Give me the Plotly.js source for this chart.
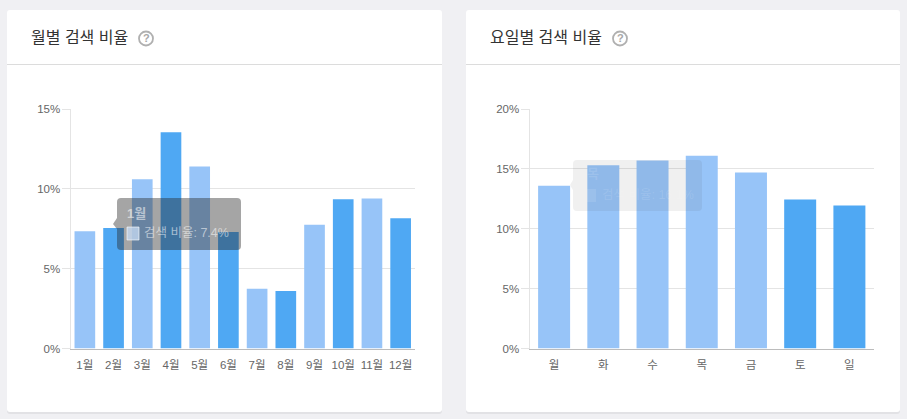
<!DOCTYPE html>
<html><head><meta charset="utf-8">
<script src="https://cdn.plot.ly/plotly-3.0.1.min.js"></script>
<style>html,body{margin:0;padding:0;background:#f0f0f3;overflow:hidden}#c{width:907px;height:419px}</style>
</head><body><div id="c"></div>
<script>
const months=['1월','2월','3월','4월','5월','6월','7월','8월','9월','10월','11월','12월'];
const monthValues=[7.35,7.55,10.6,13.55,11.4,7.3,3.75,3.6,7.75,9.35,9.4,8.15];
const days=['월','화','수','목','금','토','일'];
const dayValues=[13.6,15.3,15.7,16.1,14.7,12.45,11.95];
const LIGHT='#97c4f8',DARK='#4fa8f3';
const monthColors=months.map((_,i)=>i%2?DARK:LIGHT);
const dayColors=[LIGHT,LIGHT,LIGHT,LIGHT,LIGHT,DARK,DARK];
const W=907,H=419;
const FONT='"Liberation Sans","Noto Sans CJK KR",Arial,sans-serif';
const X=x=>x/W, Y=y=>1-y/H;
function rr(x0,y0,x1,y1,r){
  return `M${X(x0+r)},${Y(y0)}L${X(x1-r)},${Y(y0)}Q${X(x1)},${Y(y0)} ${X(x1)},${Y(y0+r)}L${X(x1)},${Y(y1-r)}Q${X(x1)},${Y(y1)} ${X(x1-r)},${Y(y1)}L${X(x0+r)},${Y(y1)}Q${X(x0)},${Y(y1)} ${X(x0)},${Y(y1-r)}L${X(x0)},${Y(y0+r)}Q${X(x0)},${Y(y0)} ${X(x0+r)},${Y(y0)}Z`;
}
const sh=(path,fill,layer)=>({type:'path',xref:'paper',yref:'paper',path,fillcolor:fill,line:{width:0},layer:layer||'below'});
const hline=(x0,x1,y)=>({type:'line',xref:'paper',yref:'paper',x0:X(x0),x1:X(x1),y0:Y(y),y1:Y(y),line:{color:'#dcdcdc',width:1},layer:'below'});
const circ=(cx,cy,r)=>({type:'circle',xref:'paper',yref:'paper',x0:X(cx-r),x1:X(cx+r),y0:Y(cy-r),y1:Y(cy+r),line:{color:'#b0b0b0',width:1.8},fillcolor:'rgba(0,0,0,0)',layer:'below'});
const note=(text,x,y,size,color,anchor)=>({text,xref:'paper',yref:'paper',x:X(x),y:Y(y),xanchor:anchor||'left',yanchor:'middle',showarrow:false,font:{size,color,family:FONT}});
const tipDark='rgba(40,40,40,0.42)', tipFaint='rgba(60,60,60,0.08)';
const shapes=[
  sh(rr(7,11,442,414,3),'#e2e2e5'),
  sh(rr(466,11,900,414,3),'#e2e2e5'),
  sh(rr(7,10,442,412,3),'#ffffff'),
  sh(rr(466,10,900,412,3),'#ffffff'),
  hline(7,442,64.5),hline(466,900,64.5),
  circ(146,38.5,7),circ(620,38.5,7),
  sh(rr(117,198,241,250,4),tipDark,'above'),
  sh(`M${X(117)},${Y(218)}L${X(113)},${Y(224)}L${X(117)},${Y(229)}Z`,tipDark,'above'),
  sh(rr(573,160,702,211,4),tipFaint,'above'),
  sh(`M${X(573)},${Y(180)}L${X(570)},${Y(185)}L${X(573)},${Y(190)}Z`,tipFaint,'above'),
  {type:'rect',xref:'paper',yref:'paper',x0:X(127),x1:X(139),y0:Y(227),y1:Y(240),fillcolor:'rgba(200,220,245,0.75)',line:{color:'rgba(255,255,255,0.6)',width:1},layer:'above'},
  {type:'rect',xref:'paper',yref:'paper',x0:X(587),x1:X(596),y0:Y(189),y1:Y(202),fillcolor:'rgba(255,255,255,0.1)',line:{width:0},layer:'above'}
];
const annotations=[
  note('월별 검색 비율',29,37.5,16,'#333333'),
  note('요일별 검색 비율',488,37.5,16,'#333333'),
  note('<b>?</b>',146,38.5,11,'#a8a8a8','center'),
  note('<b>?</b>',620,38.5,11,'#a8a8a8','center'),
  note('<b>1월</b>',125,213,13,'rgba(255,255,255,0.55)'),
  note('검색 비율: 7.4%',142,232.5,12.5,'rgba(255,255,255,0.55)'),
  note('<b>목</b>',585,174,13,'rgba(255,255,255,0.12)'),
  note('검색 비율: 16.1%',600,195,12.5,'rgba(255,255,255,0.12)')
];
const yax=(max,dt,anchor)=>({domain:[Y(348.5),Y(109)],range:[0,max],dtick:dt,ticksuffix:'%',anchor,
  showgrid:true,gridcolor:'#e4e4e4',gridwidth:1,zeroline:false,showline:true,linecolor:'#e4e4e4',linewidth:1,
  ticks:'outside',ticklen:8,tickcolor:'#e4e4e4',ticklabelstandoff:-1,ticklabelshift:-1.5,tickfont:{size:11.5,color:'#666666',family:FONT},fixedrange:true});
const xax=(dom,anchor)=>({domain:dom,anchor,type:'category',showgrid:false,zeroline:false,showline:true,linecolor:'#bcbcbc',linewidth:1,
  ticks:'outside',ticklen:6,tickcolor:'rgba(0,0,0,0)',tickangle:0,tickfont:{size:11.5,color:'#666666',family:FONT},fixedrange:true});
const data=[
  {type:'bar',x:months,y:monthValues,marker:{color:monthColors,line:{width:0}},width:0.72,xaxis:'x',yaxis:'y',hoverinfo:'none'},
  {type:'bar',x:days,y:dayValues,marker:{color:dayColors,line:{width:0}},width:0.65,xaxis:'x2',yaxis:'y2',hoverinfo:'none'}
];
const layout={width:W,height:H,margin:{l:0,r:0,t:0,b:0},paper_bgcolor:'#f0f0f3',plot_bgcolor:'rgba(0,0,0,0)',showlegend:false,
  xaxis:xax([X(70.5),X(415)],'y'),yaxis:yax(15,5,'x'),
  xaxis2:xax([X(529.5),X(874)],'y2'),yaxis2:yax(20,5,'x2'),
  shapes,annotations};
Plotly.newPlot('c',data,layout,{displayModeBar:false,staticPlot:true});
</script></body></html>
